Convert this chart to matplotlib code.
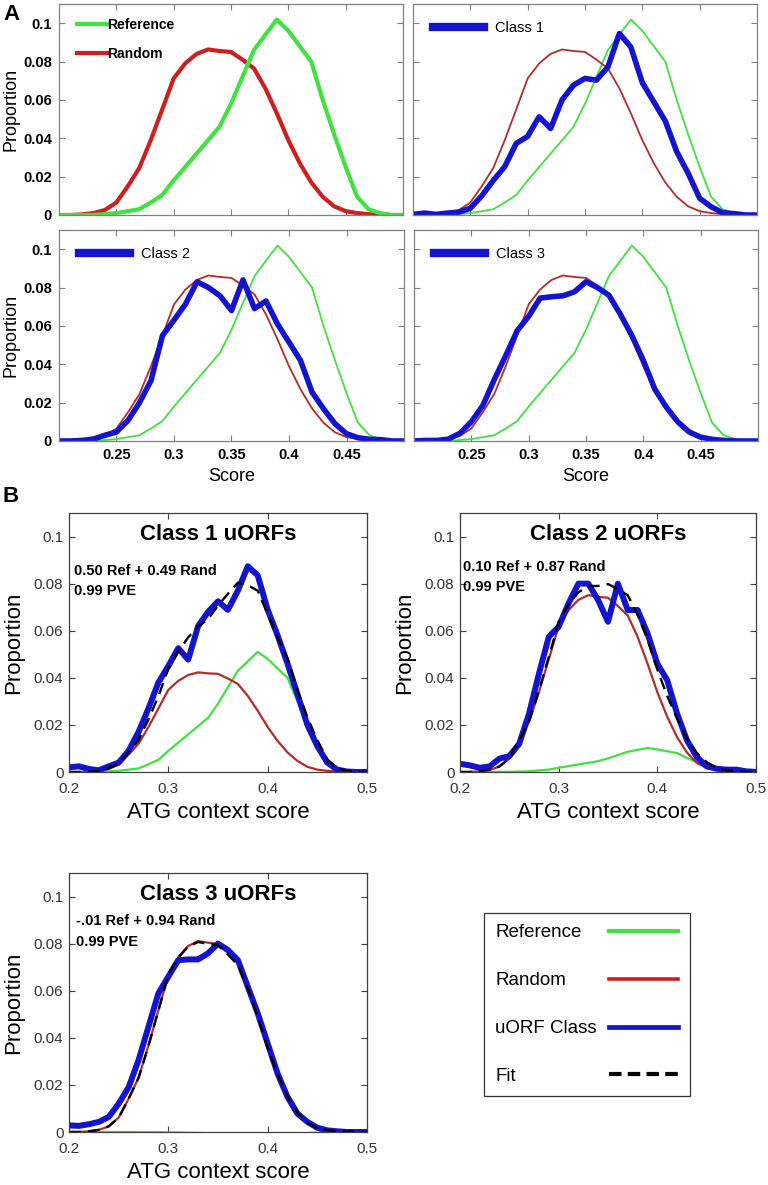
import numpy as np
import matplotlib.pyplot as plt
from matplotlib.lines import Line2D

plt.rcParams['font.family'] = ['Liberation Sans', 'DejaVu Sans']

# score bins 0.20 .. 0.50
score = np.arange(20, 51) / 100

# panel A distributions
reference = [0, 0, 0, 0, 0.0005, 0.001, 0.002, 0.003, 0.0065, 0.0104, 0.018,
             0.025, 0.032, 0.039, 0.046, 0.058, 0.072, 0.086, 0.094, 0.1019, 0.096,
             0.088, 0.080, 0.060, 0.042, 0.025, 0.0095, 0.003, 0.001, 0, 0]
random_ = [0, 0, 0.0003, 0.001, 0.0026, 0.0065, 0.015, 0.0245, 0.039, 0.055, 0.0712,
           0.079, 0.084, 0.0863, 0.0855, 0.085, 0.081, 0.0764, 0.066, 0.053, 0.039,
           0.027, 0.017, 0.0095, 0.0045, 0.002, 0.001, 0.0004, 0.0002, 0, 0]
class1 = [0.0003, 0.001, 0.0003, 0.001, 0.0015, 0.0035, 0.010, 0.018, 0.0252, 0.0373, 0.041,
          0.0512, 0.0451, 0.060, 0.0677, 0.0712, 0.0703, 0.0772, 0.0946, 0.0875, 0.069,
          0.059, 0.049, 0.033, 0.0217, 0.0087, 0.0043, 0.0012, 0.0007, 0, 0]
class2 = [0, 0, 0.0003, 0.001, 0.003, 0.0047, 0.0107, 0.020, 0.0315, 0.055, 0.063,
          0.0714, 0.083, 0.080, 0.0757, 0.068, 0.084, 0.069, 0.073, 0.061, 0.0515,
          0.042, 0.0255, 0.0168, 0.009, 0.0038, 0.0017, 0.0009, 0.0007, 0, 0]
class3 = [0, 0.0003, 0.0003, 0.001, 0.004, 0.010, 0.0185, 0.032, 0.0445, 0.0575, 0.065,
          0.0745, 0.0752, 0.0757, 0.0778, 0.083, 0.080, 0.076, 0.066, 0.055, 0.042,
          0.027, 0.0177, 0.010, 0.0047, 0.002, 0.0009, 0.0003, 0, 0, 0]

# panel B: weighted components, observed class and fit
b1_ref = [0, 0, 0, 0, 0.0003, 0.0005, 0.001, 0.0015, 0.0033, 0.0052, 0.009,
          0.0125, 0.016, 0.0195, 0.023, 0.029, 0.036, 0.043, 0.047, 0.051, 0.048,
          0.044, 0.040, 0.030, 0.021, 0.0125, 0.0048, 0.0015, 0.0005, 0, 0]
b1_rand = [0, 0, 0.0001, 0.0005, 0.0013, 0.0032, 0.0074, 0.012, 0.0191, 0.027, 0.0349,
           0.0387, 0.0412, 0.0423, 0.0419, 0.0417, 0.0397, 0.0374, 0.0323, 0.026, 0.0191,
           0.0132, 0.0083, 0.0047, 0.0022, 0.001, 0.0005, 0.0002, 0.0001, 0, 0]
b1_class = [0.002, 0.0024, 0.0013, 0.0007, 0.0024, 0.004, 0.009, 0.017, 0.027, 0.038, 0.045,
            0.0526, 0.0477, 0.062, 0.068, 0.0725, 0.0689, 0.077, 0.0874, 0.0835, 0.0689,
            0.058, 0.046, 0.033, 0.020, 0.011, 0.004, 0.001, 0.0002, 0, 0]
b1_fit = [0, 0, 0.0001, 0.0005, 0.0016, 0.0037, 0.0084, 0.0135, 0.0224, 0.0322, 0.0439,
          0.0512, 0.0572, 0.0618, 0.0649, 0.0707, 0.0757, 0.0804, 0.0793, 0.077, 0.0671,
          0.0572, 0.0483, 0.0347, 0.0232, 0.0135, 0.0053, 0.0017, 0.0006, 0, 0]

b2_ref = [0, 0, 0, 0, 0.0001, 0.0001, 0.0002, 0.0003, 0.0007, 0.001, 0.0018,
          0.0025, 0.0032, 0.0039, 0.0046, 0.0058, 0.0072, 0.0086, 0.0094, 0.0102, 0.0096,
          0.0088, 0.008, 0.006, 0.0042, 0.0025, 0.001, 0.0003, 0.0001, 0, 0]
b2_rand = [0, 0, 0.0003, 0.0009, 0.0023, 0.0057, 0.0131, 0.0213, 0.0339, 0.0479, 0.0619,
           0.0687, 0.0731, 0.0751, 0.0744, 0.074, 0.0705, 0.0665, 0.0574, 0.0461, 0.0339,
           0.0235, 0.0148, 0.0083, 0.0039, 0.0017, 0.0009, 0.0003, 0.0002, 0, 0]
b2_class = [0.0035, 0.0028, 0.0018, 0.0024, 0.0057, 0.0067, 0.012, 0.0248, 0.0418, 0.0574, 0.0617,
            0.0716, 0.080, 0.080, 0.073, 0.0638, 0.080, 0.0688, 0.0688, 0.0589, 0.046,
            0.039, 0.0248, 0.0135, 0.0064, 0.0024, 0.0014, 0.001, 0.001, 0.0003, 0]
b2_fit = [0, 0, 0.0003, 0.0009, 0.0024, 0.0058, 0.0133, 0.0216, 0.0346, 0.0489, 0.0637,
          0.0712, 0.0763, 0.079, 0.079, 0.0798, 0.0777, 0.0751, 0.0668, 0.0563, 0.0435,
          0.0323, 0.0228, 0.0143, 0.0081, 0.0042, 0.0019, 0.0006, 0.0003, 0, 0]

b3_ref = [0, 0, 0, 0, 0, 0, 0, 0, -0.0001, -0.0001, -0.0002,
          -0.0002, -0.0003, -0.0004, -0.0005, -0.0006, -0.0007, -0.0009, -0.0009, -0.001, -0.001,
          -0.0009, -0.0008, -0.0006, -0.0004, -0.0003, -0.0001, 0, 0, 0, 0]
b3_rand = [0, 0, 0.0003, 0.0009, 0.0024, 0.0061, 0.0141, 0.023, 0.0367, 0.0517, 0.0669,
           0.0743, 0.079, 0.0811, 0.0804, 0.0799, 0.0761, 0.0718, 0.062, 0.0498, 0.0367,
           0.0254, 0.016, 0.0089, 0.0042, 0.0019, 0.0009, 0.0004, 0.0002, 0, 0]
b3_class = [0.0028, 0.0026, 0.0033, 0.0043, 0.0064, 0.012, 0.019, 0.0305, 0.0447, 0.0589, 0.066,
            0.073, 0.0733, 0.0733, 0.0759, 0.080, 0.0773, 0.073, 0.0617, 0.0504, 0.0376,
            0.0248, 0.0149, 0.0078, 0.0043, 0.0018, 0.0007, 0.0003, 0, 0, 0]
b3_fit = [0, 0, 0.0003, 0.0009, 0.0024, 0.0061, 0.0141, 0.023, 0.0366, 0.0516, 0.0667,
          0.0741, 0.0787, 0.0807, 0.0799, 0.0793, 0.0754, 0.0709, 0.0611, 0.0488, 0.0357,
          0.0245, 0.0152, 0.0083, 0.0038, 0.0016, 0.0008, 0.0004, 0.0002, 0, 0]

b_titles = ['Class 1 uORFs', 'Class 2 uORFs', 'Class 3 uORFs']
b_fits = [('0.50 Ref + 0.49 Rand', '0.99 PVE'),
          ('0.10 Ref + 0.87 Rand', '0.99 PVE'),
          ('-.01 Ref + 0.94 Rand', '0.99 PVE')]

a_yticks = [0, 0.02, 0.04, 0.06, 0.08, 0.1]
a_ylabels = ['0', '0.02', '0.04', '0.06', '0.08', '0.1']
a_xticks = [0.25, 0.3, 0.35, 0.4, 0.45]
a_xlabels = ['0.25', '0.3', '0.35', '0.4', '0.45']
b_xticks = [0.2, 0.3, 0.4, 0.5]
b_xlabels = ['0.2', '0.3', '0.4', '0.5']

GREEN = '#3fe23f'
RED = '#d01e1e'
RED_THIN = '#b82a2a'
BLUE = '#1414d0'

W, H = 768, 1185
fig = plt.figure(figsize=(W / 100, H / 100), dpi=100)


def box(l, t, r, b):
    return [l / W, 1 - b / H, (r - l) / W, (b - t) / H]


def style_a(ax, xlab, ylab):
    ax.set_xlim(0.2, 0.5)
    ax.set_ylim(0, 0.11)
    ax.set_xticks(a_xticks)
    ax.set_yticks(a_yticks)
    ax.set_xticklabels(a_xlabels if xlab else [])
    ax.set_yticklabels(a_ylabels if ylab else [])
    ax.tick_params(direction='in', top=True, right=True, length=4, width=0.8,
                   color='#808080', labelsize=10.5, pad=5)
    for t in ax.get_xticklabels() + ax.get_yticklabels():
        t.set_fontweight('bold')
    for sp in ax.spines.values():
        sp.set_color('#808080')
        sp.set_linewidth(0.9)
    if ylab:
        ax.set_ylabel('Proportion', fontsize=13)
        ax.yaxis.set_label_coords(-0.115, 0.5)
    if xlab:
        ax.set_xlabel('Score', fontsize=13)
        ax.xaxis.set_label_coords(0.5, -0.13)


# ---- panel A ----
ax = fig.add_axes(box(59, 4, 403, 215))
ax.plot(score, random_, color=RED, lw=3, label='Random')
ax.plot(score, reference, color=GREEN, lw=3, label='Reference')
style_a(ax, False, True)
h, l = ax.get_legend_handles_labels()
ax.legend(h[::-1], l[::-1], loc='upper left', bbox_to_anchor=(0.052, 0.932), frameon=False,
          handlelength=2.15, handletextpad=0.05, labelspacing=1.05, borderpad=0, borderaxespad=0,
          prop={'size': 10, 'weight': 'bold'})

a_classes = [(class1, 'Class 1', box(413, 4, 757, 215), False, False),
             (class2, 'Class 2', box(59, 230, 404, 441), True, True),
             (class3, 'Class 3', box(414, 230, 758, 441), True, False)]
for vals, name, pos, xlab, ylab in a_classes:
    ax = fig.add_axes(pos)
    ax.plot(score, reference, color=GREEN, lw=1.3)
    ax.plot(score, random_, color=RED_THIN, lw=1.3)
    ax.plot(score, vals, color=BLUE, lw=4)
    style_a(ax, xlab, ylab)
    ax.legend([Line2D([], [], color=BLUE, lw=6)], [name], loc='upper left',
              bbox_to_anchor=(0.059, 0.921), frameon=False, handlelength=3.5,
              handletextpad=0.75, borderpad=0, borderaxespad=0, fontsize=10.5)

# ---- panel B ----
b_data = [(b1_ref, b1_rand, b1_class, b1_fit),
          (b2_ref, b2_rand, b2_class, b2_fit),
          (b3_ref, b3_rand, b3_class, b3_fit)]
b_pos = [box(69, 513, 367, 772), box(460, 513, 756, 772), box(69, 873, 367, 1132)]
b_text_y = [(58, 78), (54, 74), (48, 69)]
b_text_x = [5, 3, 7]

for i in range(3):
    ref, rnd, cls, fit = b_data[i]
    ax = fig.add_axes(b_pos[i])
    ax.plot(score, ref, color=GREEN, lw=1.6)
    ax.plot(score, rnd, color=RED_THIN, lw=1.6)
    ax.plot(score, cls, color=BLUE, lw=4.3)
    ax.plot(score, fit, color='black', lw=1.7, ls=(0, (5, 3)))
    ax.set_xlim(0.2, 0.5)
    ax.set_ylim(0, 0.11)
    ax.set_xticks(b_xticks)
    ax.set_xticklabels(b_xlabels)
    ax.set_yticks(a_yticks)
    ax.set_yticklabels(a_ylabels)
    ax.tick_params(direction='in', top=True, right=True, length=4, width=0.8,
                   color='#404040', labelcolor='#333333', labelsize=11, pad=4)
    ax.tick_params(axis='x', pad=7)
    for sp in ax.spines.values():
        sp.set_color('#404040')
        sp.set_linewidth(0.9)
    ax.set_ylabel('Proportion', fontsize=16)
    ax.yaxis.set_label_coords(-0.15, 0.5)
    ax.set_xlabel('ATG context score', fontsize=16)
    ax.xaxis.set_label_coords(0.5, -0.115)
    hpx = 259
    ax.text(0.5, 1 - 22 / hpx, b_titles[i], transform=ax.transAxes, ha='center',
            va='center', fontsize=16, fontweight='bold')
    wpx = 298
    for line, ypx in zip(b_fits[i], b_text_y[i]):
        ax.text(b_text_x[i] / wpx, 1 - ypx / hpx, line, transform=ax.transAxes,
                ha='left', va='center', fontsize=10.5, fontweight='bold')

leg_handles = [Line2D([], [], color=GREEN, lw=3),
               Line2D([], [], color=RED, lw=2.6),
               Line2D([], [], color=BLUE, lw=3.4),
               Line2D([], [], color='black', lw=3, ls=(0, (3, 1.5)))]
leg = fig.legend(leg_handles, ['Reference', 'Random', 'uORF Class', 'Fit'],
                 loc='upper left', bbox_to_anchor=(484 / W, 1 - 913 / H), markerfirst=False,
                 fontsize=13.5, handlelength=3.7, handletextpad=0.65, labelspacing=1.64,
                 borderpad=0.6, borderaxespad=0, fancybox=False, edgecolor='black')
leg.get_frame().set_linewidth(0.9)

# left-align the labels: pad the gap so every row has the same width
fig.canvas.draw()
rend = fig.canvas.get_renderer()
tw = [t.get_window_extent(rend).width * 72 / fig.dpi for t in leg.get_texts()]
for item, w in zip(leg._legend_handle_box.get_children()[0].get_children(), tw):
    item.sep += max(tw) - w

fig.text(12 / W, 1 - 14 / H, 'A', fontsize=16, fontweight='bold', ha='center', va='center')
fig.text(11 / W, 1 - 497 / H, 'B', fontsize=16, fontweight='bold', ha='center', va='center')

fig.savefig('out.png', dpi=100)
